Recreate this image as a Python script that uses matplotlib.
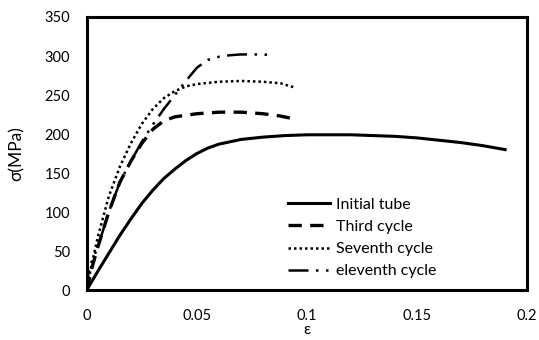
import matplotlib
matplotlib.use("Agg")
import matplotlib.pyplot as plt

plt.rcParams["font.family"] = ["Lato", "DejaVu Sans"]

# strain / stress readings (MPa)
initial_eps = [0.0, 0.005, 0.01, 0.015, 0.02, 0.025, 0.03, 0.035, 0.04, 0.045, 0.05, 0.055,
               0.06, 0.07, 0.08, 0.09, 0.10, 0.11, 0.12, 0.13, 0.14, 0.15, 0.16, 0.17, 0.18, 0.19]
initial_sig = [0, 24, 47, 70, 91, 111, 128, 143, 155, 166, 175, 182,
               187, 193, 196, 198, 199, 199, 199, 198, 197, 195, 192, 189, 185, 180]

third_eps = [0.0, 0.002, 0.005, 0.01, 0.015, 0.02, 0.025, 0.03, 0.035, 0.04, 0.05, 0.06,
             0.07, 0.08, 0.088, 0.093]
third_sig = [0, 25, 55, 100, 138, 165, 188, 206, 217, 222, 226, 228,
             228, 226, 223, 220]

seventh_eps = [0.0, 0.002, 0.005, 0.01, 0.015, 0.02, 0.025, 0.03, 0.035, 0.04, 0.045, 0.05,
               0.06, 0.07, 0.08, 0.088, 0.094]
seventh_sig = [0, 30, 68, 120, 158, 188, 213, 232, 246, 255, 261, 264,
               267, 268, 267, 265, 260]

eleventh_eps = [0.0, 0.001, 0.005, 0.01, 0.015, 0.02, 0.025, 0.03, 0.035, 0.04, 0.045, 0.05,
                0.055, 0.06, 0.065, 0.07, 0.075, 0.08, 0.085]
eleventh_sig = [0, 28, 55, 100, 138, 165, 190, 212, 232, 250, 268, 285,
                295, 299, 301, 302, 302, 302, 301]

labels = ["Initial tube", "Third cycle", "Seventh cycle", "eleventh cycle"]

fig, ax = plt.subplots(figsize=(5.39, 3.40), dpi=100)
fig.subplots_adjust(left=0.161, right=0.978, top=0.95, bottom=0.147)

ax.plot(initial_eps, initial_sig, color="black", linewidth=2.2, linestyle="-", label=labels[0])
ax.plot(third_eps, third_sig, color="black", linewidth=2.4, linestyle=(0, (4, 2.5)), label=labels[1])
ax.plot(seventh_eps, seventh_sig, color="black", linewidth=1.8, linestyle=(0, (1, 1.2)), label=labels[2])
ax.plot(eleventh_eps, eleventh_sig, color="black", linewidth=1.8, linestyle=(0, (8, 3, 1, 3, 1, 3)),
        label=labels[3])

ax.set_xlim(0, 0.2)
ax.set_ylim(0, 350)
ax.set_xticks([0, 0.05, 0.1, 0.15, 0.2])
ax.set_xticklabels(["0", "0.05", "0.1", "0.15", "0.2"])
ax.set_yticks(range(0, 351, 50))
ax.tick_params(length=0, labelsize=10.5)
ax.tick_params(axis="x", pad=14)
ax.tick_params(axis="y", pad=12)
for s in ax.spines.values():
    s.set_linewidth(2.2)

ax.set_xlabel("ε", fontsize=11.5, labelpad=0)
ax.set_ylabel("σ(MPa)", fontsize=12.5, labelpad=14)

ax.legend(loc="lower left", bbox_to_anchor=(0.425, -0.01), frameon=False, fontsize=11.5,
          handlelength=2.6, handletextpad=0.4, labelspacing=0.5)

fig.savefig("out.png", dpi=100)
